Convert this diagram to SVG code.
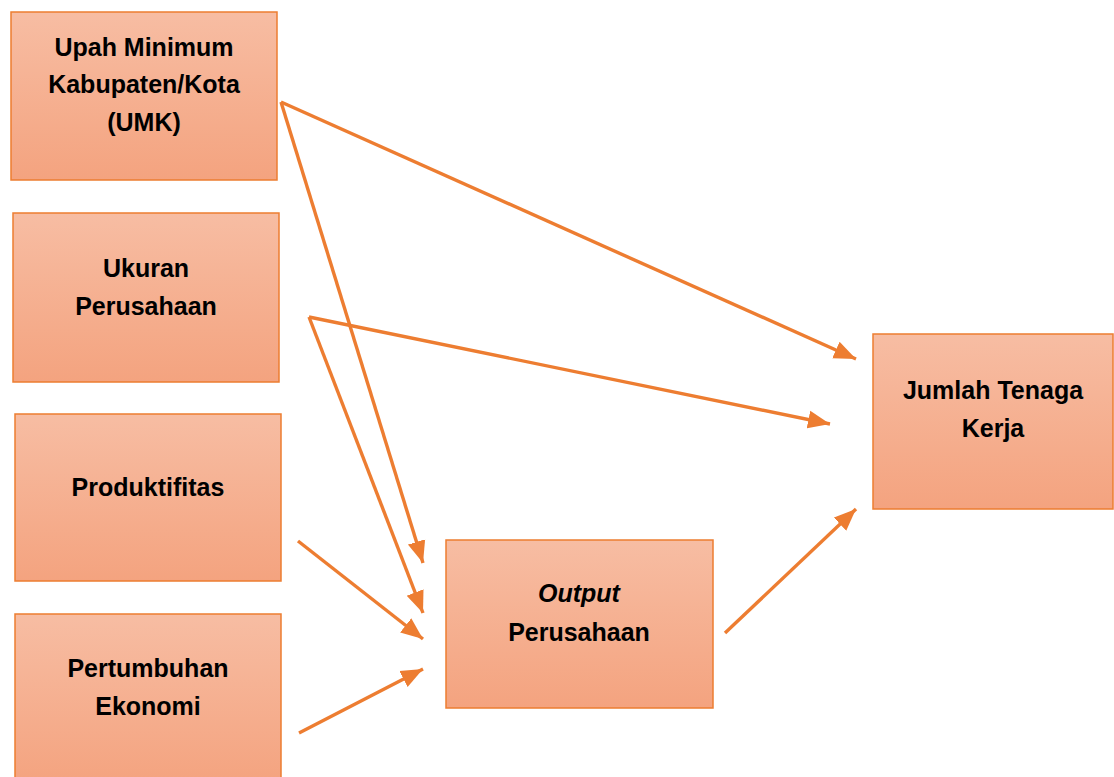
<svg xmlns="http://www.w3.org/2000/svg" width="1114" height="777" viewBox="0 0 1114 777">
<defs>
<linearGradient id="g" x1="0" y1="0" x2="0" y2="1">
<stop offset="0" stop-color="#F7BDA3"/>
<stop offset="1" stop-color="#F4A37F"/>
</linearGradient>
<marker id="ah" markerUnits="userSpaceOnUse" markerWidth="24" markerHeight="20" refX="22" refY="10" orient="auto">
<path d="M0,1 L22,10 L0,19 Z" fill="#ED7D31"/>
</marker>
<style>
.box{fill:url(#g);stroke:#ED7D31;stroke-width:1.5}
.t{font-family:"Liberation Sans",Arial,sans-serif;font-weight:bold;font-size:25px;fill:#000;text-anchor:middle}
.c{stroke:#ED7D31;stroke-width:3.4;fill:none;marker-end:url(#ah)}
</style>
</defs>
<rect width="1114" height="777" fill="#fff"/>
<g id="umk">
<rect class="box" x="11" y="12" width="266" height="168"/>
<text class="t" x="144" y="56">Upah Minimum</text>
<text class="t" x="144" y="93">Kabupaten/Kota</text>
<text class="t" x="144" y="131">(UMK)</text>
</g>
<g id="ukuran">
<rect class="box" x="13" y="213" width="266" height="169"/>
<text class="t" x="146" y="277">Ukuran</text>
<text class="t" x="146" y="315">Perusahaan</text>
</g>
<g id="produktifitas">
<rect class="box" x="15" y="414" width="266" height="167"/>
<text class="t" x="148" y="496">Produktifitas</text>
</g>
<g id="pertumbuhan">
<rect class="box" x="15" y="614" width="266" height="170"/>
<text class="t" x="148" y="677">Pertumbuhan</text>
<text class="t" x="148" y="715">Ekonomi</text>
</g>
<g id="output">
<rect class="box" x="446" y="540" width="267" height="168"/>
<text class="t" x="579" y="602" font-style="italic">Output</text>
<text class="t" x="579" y="641">Perusahaan</text>
</g>
<g id="jumlah">
<rect class="box" x="873" y="334" width="240" height="175"/>
<text class="t" x="993" y="399">Jumlah Tenaga</text>
<text class="t" x="993" y="437">Kerja</text>
</g>
<g id="connectors">
<line class="c" x1="281" y1="102" x2="856" y2="359"/>
<line class="c" x1="281" y1="102" x2="423" y2="563"/>
<line class="c" x1="309" y1="317" x2="830" y2="424"/>
<line class="c" x1="309" y1="317" x2="423" y2="613"/>
<line class="c" x1="298" y1="541" x2="423" y2="639"/>
<line class="c" x1="299" y1="733" x2="423" y2="669"/>
<line class="c" x1="725" y1="633" x2="856" y2="509"/>
</g>
</svg>
